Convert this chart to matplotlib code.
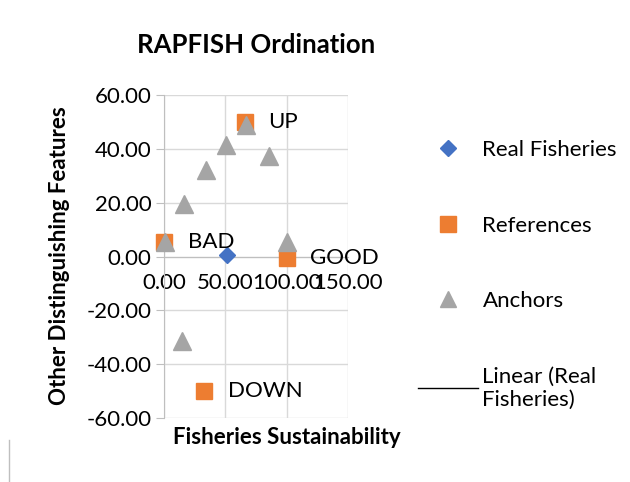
import matplotlib
matplotlib.use("Agg")
import matplotlib.pyplot as plt
from matplotlib.lines import Line2D

plt.rcParams['font.family'] = ['Lato', 'DejaVu Sans']

# ── Data ─────────────────────────────────────────────────────────────────────
real_x = [51.0]
real_y = [0.5]

ref_x = [0.0, 100.0, 66.0, 33.0]
ref_y = [5.5, -0.5, 50.0, -50.0]
ref_labels = ["BAD", "GOOD", "UP", "DOWN"]

anchor_x = [1.0, 16.5, 34.0, 50.5, 67.0, 86.0, 100.0, 15.0]
anchor_y = [5.5, 19.5, 32.0, 41.5, 49.0, 37.5, 5.5, -31.5]

x_ticks = [0, 50, 100, 150]
y_ticks = [-60, -40, -20, 0, 20, 40, 60]

BLUE, ORANGE, GRAY = "#4472C4", "#ED7D31", "#A5A5A5"
GRID = "#D9D9D9"
AXIS = "#BFBFBF"
FS = 16

# ── Figure ────────────────────────────────────────────────────────────────────
fig = plt.figure(figsize=(6.3, 4.82), dpi=100)
ax = fig.add_axes([164 / 630, 1 - 418 / 482, 184 / 630, 323 / 482])

for s in ['top', 'right']:
    ax.spines[s].set_visible(False)
ax.spines['bottom'].set_position(('data', 0))
ax.spines['left'].set_color(AXIS)
ax.spines['bottom'].set_color(AXIS)

ax.plot(real_x, real_y, 'D', color=BLUE, ms=8, zorder=3, clip_on=False)
ax.plot(ref_x, ref_y, 's', color=ORANGE, ms=12, zorder=4, clip_on=False)
ax.plot(anchor_x, anchor_y, '^', color=GRAY, ms=13, zorder=5, clip_on=False)

for x, y, lab in zip(ref_x, ref_y, ref_labels):
    ax.annotate(lab, (x, y), xytext=(17, 0), textcoords='offset points',
                va='center', ha='left', fontsize=FS, zorder=6)

ax.set_xlim(0, 150)
ax.set_ylim(-60, 60)
ax.set_xticks(x_ticks)
ax.set_yticks(y_ticks)
ax.set_xticklabels([f"{v:.2f}" for v in x_ticks])
ax.set_yticklabels([f"{v:.2f}" for v in y_ticks])

ax.grid(True, color=GRID, lw=1, zorder=0)
ax.set_axisbelow(True)
ax.tick_params(axis='y', length=6, color=AXIS, pad=3, labelsize=FS)
ax.tick_params(axis='x', length=0, pad=12, labelsize=FS)

ax.set_title("RAPFISH Ordination", fontsize=18.5, fontweight='bold', pad=0,
             y=1 + (95 - 45) / 323, va='center')
fig.text(287 / 630, 1 - 438 / 482, "Fisheries Sustainability",
         fontsize=FS, fontweight='bold', ha='center', va='center')
fig.text(60 / 630, 1 - 256 / 482, "Other Distinguishing Features",
         fontsize=FS, fontweight='bold', ha='center', va='center', rotation=90)

# ── Legend ────────────────────────────────────────────────────────────────────
handles = [
    Line2D([], [], ls='none', marker='D', color=BLUE, ms=8),
    Line2D([], [], ls='none', marker='s', color=ORANGE, ms=11),
    Line2D([], [], ls='none', marker='^', color=GRAY, ms=12),
    Line2D([], [], color='black', lw=1),
]
labels = ["Real Fisheries", "References", "Anchors", "Linear (Real\nFisheries)"]
fig.legend(handles, labels, loc='upper left', bbox_to_anchor=(418 / 630, 1 - 140 / 482),
           frameon=False, fontsize=FS, handlelength=2.7, handletextpad=0.2,
           labelspacing=2.5, borderaxespad=0, borderpad=0)

# partial chart border at bottom left
fig.add_artist(Line2D([9 / 630, 9 / 630], [0, 42 / 482], color=AXIS, lw=1))

fig.savefig("out.png", dpi=100)
